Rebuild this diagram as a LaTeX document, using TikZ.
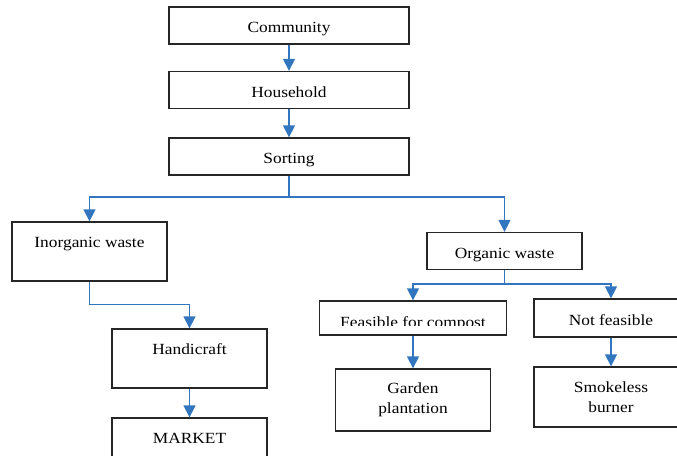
\documentclass[tikz,border=0pt]{standalone}
\usepackage{fontspec}
\setmainfont{Liberation Serif}[FakeStretch=1.12]
\usetikzlibrary{arrows.meta}
\definecolor{flowblue}{RGB}{50,118,192}
\begin{document}
\begin{tikzpicture}[x=1pt,y=-1pt,
  box/.style={draw=black!85,line width=1.3pt,minimum height=37pt,inner sep=0pt,
    font=\fontsize{15.5}{20}\selectfont,align=center},
  linebox/.style={box,text height=15pt,text depth=1pt},
  topbox/.style={box,minimum height=59pt,text height=25pt,text depth=34pt},
  flow/.style={draw=flowblue,line width=1.3pt,-{Triangle[width=12pt,length=12pt]}}]
\useasboundingbox (0,0) rectangle (677,455);
\clip (0,0) rectangle (677,455);

\node[linebox,minimum width=240pt] (comm) at (289,25.5) {Community};
\node[linebox,minimum width=240pt] (house) at (289,90) {Household};
\node[linebox,minimum width=240pt] (sort) at (289,156.5) {Sorting};

\node[topbox,minimum width=155pt] (inorg) at (89.5,251.5) {Inorganic waste};
\node[topbox,minimum width=155pt] (handi) at (189.5,358.5) {Handicraft};
\node[topbox,minimum width=155pt] (market) at (189.5,447.5) {MARKET};

\node[linebox,minimum width=155pt] (org) at (504.5,251) {Organic waste};
\node[box,minimum width=187pt,minimum height=34pt] (feas) at (413,318) {};
\begin{scope}
\clip (319.5,301) rectangle (506.5,325.5);
\node[anchor=base,font=\fontsize{15.5}{20}\selectfont] (feastext) at (413,327) {Feasible for compost};
\end{scope}
\node[linebox,minimum width=154pt,minimum height=38pt] (notf) at (611,318) {Not feasible};
\node[box,minimum width=155pt,minimum height=62pt] (garden) at (413,400) {Garden\\plantation};
\node[box,minimum width=154pt,minimum height=60pt] (smoke) at (611,397) {Smokeless\\burner};

\coordinate (splitA) at (289,197);
\coordinate (splitB) at (504.5,284);

\draw[flow] (comm) -- (house);
\draw[flow] (house) -- (sort);
\draw[flow] (sort) -- (splitA) -| (inorg);
\draw[flow] (splitA) -| (org);
\draw[flow] (inorg.south) -- ++(0,23) -| (handi.north);
\draw[flow] (handi) -- (market);
\draw[flow] (org) -- (splitB) -| (feas);
\draw[flow] (splitB) -| (notf);
\draw[flow] (feas) -- (garden);
\draw[flow] (notf) -- (smoke);
\end{tikzpicture}
\end{document}
